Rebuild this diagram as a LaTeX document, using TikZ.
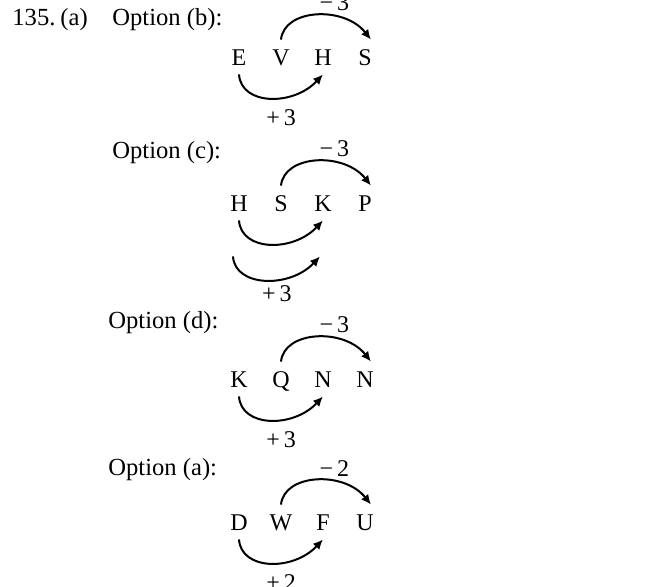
\documentclass[tikz,border=0pt]{standalone}
\usepackage{fontspec}
\setmainfont{Liberation Serif}
\usepackage{tikz}
\usetikzlibrary{arrows.meta, positioning}

\begin{document}
\begin{tikzpicture}[
        x=0.5pt, y=-0.5pt,
        head/.style={font=\fontsize{12.3}{15}\selectfont, inner sep=0pt, anchor=base west},
        letter/.style={font=\fontsize{12}{14}\selectfont, inner xsep=0pt, inner ysep=4.5pt, text height=8pt, text depth=0pt},
        amount/.style={font=\fontsize{12}{14}\selectfont, inner sep=2.5pt},
        jump/.style={-{Latex[length=5pt, width=4.5pt]}, line width=1pt}
    ]
    \useasboundingbox (0,0) rectangle (664,586);

    % Option (b)
    \node[head] (num) at (12,25) {135.};
    \node[head] (part) at (60,25) {(a)};
    \node[head] (optb) at (112,25) {Option (b):};
    \foreach \t [count=\i] in {E,V,H,S}
        \node[letter] (b\i) at (197+42*\i,57) {\t};
    \draw[jump] (b2.north) .. controls +(3,-31) and +(-27,-34) .. ([xshift=3pt]b4.north) node[pos=.65, above, amount] {−\,3};
    \draw[jump] (b1.south) .. controls +(2,31) and +(-30,32) .. (b3.south) node[pos=.6, below=3pt, amount] {+\,3};

    % Option (c)
    \node[head] (optc) at (112,158) {Option (c):};
    \foreach \t [count=\i] in {H,S,K,P}
        \node[letter] (c\i) at (197+42*\i,203) {\t};
    \draw[jump] (c2.north) .. controls +(3,-31) and +(-27,-34) .. ([xshift=3pt]c4.north) node[pos=.65, above, amount] {−\,3};
    \draw[jump] (c1.south) .. controls +(2,31) and +(-30,32) .. (c3.south);
    \draw[jump] ([xshift=-3pt, yshift=-18pt]c1.south) .. controls +(2,31) and +(-30,32) .. ([xshift=-1.5pt, yshift=-18pt]c3.south) node[pos=.6, below, amount] {+\,3};

    % Option (d)
    \node[head] (optd) at (108,328) {Option (d):};
    \foreach \t [count=\i] in {K,Q,N,N}
        \node[letter] (d\i) at (197+42*\i,379) {\t};
    \draw[jump] (d2.north) .. controls +(3,-31) and +(-27,-34) .. ([xshift=3pt]d4.north) node[pos=.65, above, amount] {−\,3};
    \draw[jump] (d1.south) .. controls +(2,31) and +(-30,32) .. (d3.south) node[pos=.6, below=3pt, amount] {+\,3};

    % Option (a)
    \node[head] (opta) at (108,475) {Option (a):};
    \foreach \t [count=\i] in {D,W,F,U}
        \node[letter] (a\i) at (197+42*\i,522) {\t};
    \draw[jump] (a2.north) .. controls +(3,-31) and +(-27,-34) .. ([xshift=3pt]a4.north) node[pos=.65, above, amount] {−\,2};
    \draw[jump] (a1.south) .. controls +(2,31) and +(-30,32) .. (a3.south) node[pos=.6, below=3pt, amount] {+\,2};
\end{tikzpicture}
\end{document}
